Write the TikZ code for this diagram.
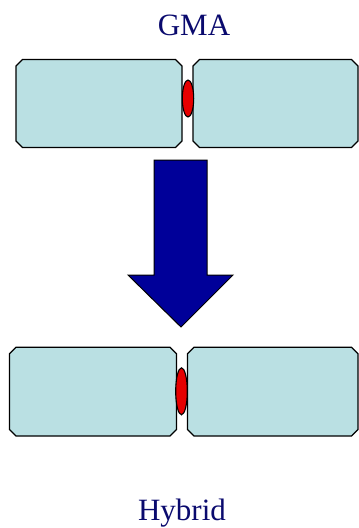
\documentclass[tikz,border=0pt]{standalone}
\usepackage{fontspec}
\setmainfont{Liberation Serif}
\usetikzlibrary{shapes.geometric}
\definecolor{plate}{HTML}{BAE0E3}
\definecolor{weld}{HTML}{E60000}
\definecolor{navytext}{HTML}{0A0A6E}
\definecolor{arrowblue}{HTML}{000099}
\newcommand{\chplate}[5]{% name, x1, y1, x2, y2
  \draw[platebox] (#2+6.5,#3) -- (#4-6.5,#3) -- (#4,#3+6.5) -- (#4,#5-6.5) -- (#4-6.5,#5)
    -- (#2+6.5,#5) -- (#2,#5-6.5) -- (#2,#3+6.5) -- cycle;
  \coordinate (#1) at ({(#2+#4)/2},{(#3+#5)/2});}
\begin{document}
\begin{tikzpicture}[x=1pt,y=-1pt,
  platebox/.style={draw=black, line width=1.3pt, fill=plate, line join=miter},
  weldbead/.style={ellipse, draw=black, line width=1.1pt, fill=weld, inner sep=0pt},
  label/.style={font=\fontsize{31}{31}\selectfont, text=navytext, anchor=base, inner sep=0pt}]
\useasboundingbox (0,0) rectangle (359,528);
% titles
\node[label] (gma) at (194,35) {GMA};
\node[label] (hyb) at (182,520) {Hybrid};
% top plates
\chplate{tl}{16}{59.5}{182}{147.5}
\chplate{tr}{193}{59.5}{358}{147.5}
\node[weldbead, minimum width=11.4pt, minimum height=37pt] (tw) at (188,98.5) {};
% arrow
\coordinate (a1) at (154,160);
\coordinate (a2) at (207,160);
\coordinate (a3) at (207,275);
\coordinate (a4) at (233,275);
\coordinate (tip) at (181,327);
\coordinate (a6) at (128,275);
\coordinate (a7) at (154,275);
\draw[fill=arrowblue, draw=black, line width=1pt, line join=miter]
  (a1) -- (a2) -- (a3) -- (a4) -- (tip) -- (a6) -- (a7) -- cycle;
% bottom plates
\chplate{bl}{9.5}{347.3}{176.5}{436}
\chplate{br}{187.5}{347.3}{358}{436}
\node[weldbead, minimum width=11.6pt, minimum height=47pt] (bw) at (181.5,391.3) {};
\end{tikzpicture}
\end{document}
